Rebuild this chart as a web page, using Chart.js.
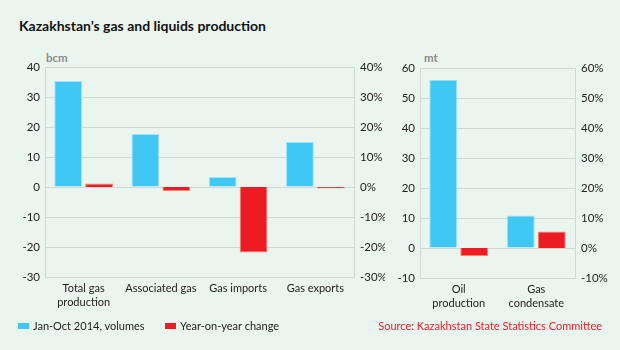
<!DOCTYPE html>
<html>
<head>
<meta charset="utf-8">
<script src="https://cdn.jsdelivr.net/npm/chart.js@4.4.0/dist/chart.umd.min.js"></script>
<style>
  body { margin: 0; background: #ebf5ef; font-family: Lato, sans-serif; }
  #wrap { position: relative; width: 620px; height: 350px; overflow: hidden; }
  #title { position: absolute; left: 19px; top: 17px; font-weight: bold; font-size: 14px; color: #111; }
  .unit { position: absolute; font-size: 11.5px; font-weight: bold; color: #8c8c8c; }
  .legend { position: absolute; top: 319px; font-size: 11px; color: #222; }
  .sw { display: inline-block; width: 11px; height: 6px; margin-right: 4px; vertical-align: 1px; }
  #source { position: absolute; right: 18px; top: 319px; font-size: 11px; color: #ed1c24; }
  canvas { position: absolute; }
</style>
</head>
<body>
<div id="wrap">
  <div id="title">Kazakhstan’s gas and liquids production</div>
  <div class="unit" style="left:46px; top:51px;">bcm</div>
  <div class="unit" style="left:424px; top:51px;">mt</div>
  <div style="position:absolute; left:0; top:50px; width:385px; height:280px;"><canvas id="gasChart"></canvas></div>
  <div style="position:absolute; left:380px; top:50px; width:240px; height:280px;"><canvas id="liquidChart"></canvas></div>
  <div class="legend" style="left:18px;"><span class="sw" style="background:#40c8f4"></span>Jan-Oct 2014, volumes</div>
  <div class="legend" style="left:165px;"><span class="sw" style="background:#ed1c24"></span>Year-on-year change</div>
  <div id="source">Source: Kazakhstan State Statistics Committee</div>
</div>
<script>
var gasCategories = [['Total gas', 'production'], 'Associated gas', 'Gas imports', 'Gas exports'];
var gasVolumes = [35.3, 17.7, 3.3, 15.0];
var gasChange = [1.2, -1.3, -21.8, -0.5];

var liquidCategories = [['Oil', 'production'], ['Gas', 'condensate']];
var liquidVolumes = [56.1, 10.8];
var liquidChange = [-2.7, 5.5];

var volumeLabel = 'Jan-Oct 2014, volumes';
var changeLabel = 'Year-on-year change';

Chart.defaults.font.family = 'Lato, sans-serif';
Chart.defaults.font.size = 11.5;
Chart.defaults.color = '#222';

var gridColor = '#cfd9d4';

function makeChart(id, labels, volumes, changes, min, max, leftW, rightW, topPad, bottomH) {
    return new Chart(document.getElementById(id), {
        type: 'bar',
        data: {
            labels: labels,
            datasets: [{
                label: volumeLabel,
                data: volumes,
                backgroundColor: '#40c8f4',
                borderColor: '#a3e2f8',
                borderWidth: 1,
                yAxisID: 'y'
            }, {
                label: changeLabel,
                data: changes,
                backgroundColor: '#ed1c24',
                borderColor: '#f5835f',
                borderWidth: 1,
                yAxisID: 'y1'
            }]
        },
        options: {
            responsive: true,
            maintainAspectRatio: false,
            animation: false,
            categoryPercentage: 0.8,
            barPercentage: 0.9,
            layout: { padding: { top: topPad, left: 0, right: 0, bottom: 0 } },
            plugins: { legend: { display: false }, tooltip: { enabled: false } },
            scales: {
                x: {
                    grid: { display: false },
                    border: { display: false },
                    ticks: { padding: -3, maxRotation: 0, autoSkip: false, font: { size: 11, lineHeight: 1.25 } },
                    afterFit: function (s) { s.height = bottomH; }
                },
                y: {
                    position: 'left',
                    min: min, max: max,
                    ticks: { stepSize: 10, padding: 5 },
                    grid: { color: gridColor, drawTicks: false },
                    border: { color: gridColor },
                    afterFit: function (s) { s.width = leftW; }
                },
                y1: {
                    position: 'right',
                    min: min, max: max,
                    ticks: { stepSize: 10, padding: 6, callback: function (v) { return v + '%'; } },
                    grid: { display: false, drawTicks: false },
                    border: { color: gridColor },
                    afterFit: function (s) { s.width = rightW; }
                }
            }
        }
    });
}

makeChart('gasChart', gasCategories, gasVolumes, gasChange, -30, 40, 45, 31, 17, 53);
makeChart('liquidChart', liquidCategories, liquidVolumes, liquidChange, -10, 60, 40, 45, 18, 52);
</script>
</body>
</html>
